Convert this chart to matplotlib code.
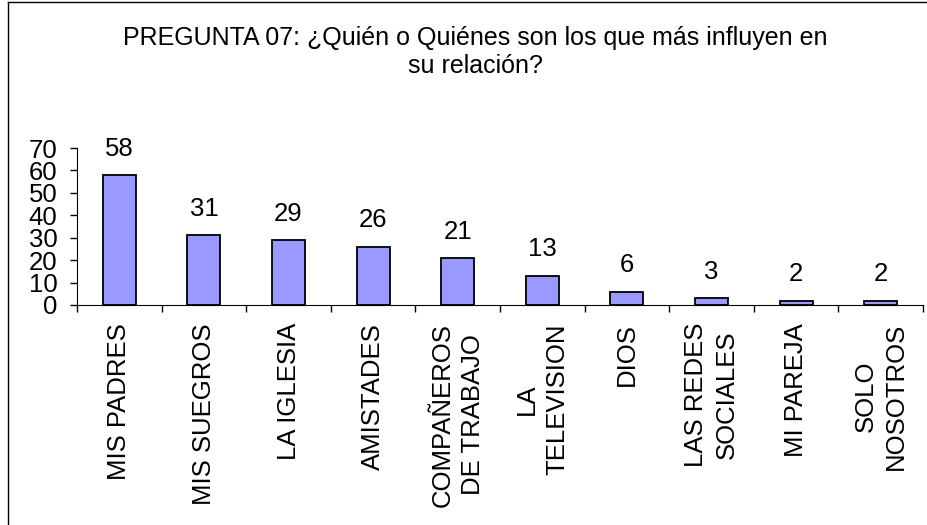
import matplotlib.pyplot as plt
from matplotlib.lines import Line2D
import numpy as np

plt.rcParams['font.family'] = ['Liberation Sans', 'DejaVu Sans']

# datos
categorias = ['MIS PADRES', 'MIS SUEGROS', 'LA IGLESIA', 'AMISTADES',
              'COMPAÑEROS\nDE TRABAJO', 'LA\nTELEVISION', 'DIOS',
              'LAS REDES\nSOCIALES', 'MI PAREJA', 'SOLO\nNOSOTROS']
valores = [58, 31, 29, 26, 21, 13, 6, 3, 2, 2]
yticks = [0, 10, 20, 30, 40, 50, 60, 70]
titulo = 'PREGUNTA 07: ¿Quién o Quiénes son los que más influyen en\nsu relación?'

fig = plt.figure(figsize=(9.28, 5.25), dpi=100)
ax = fig.add_axes([77 / 928, 1 - 305 / 525, 846 / 928, 157 / 525])

x = np.arange(len(categorias))
ax.bar(x, valores, width=0.39, color='#9999FF', edgecolor='black', linewidth=1.3)

for xi, v in zip(x, valores):
    ax.annotate(str(v), (xi, v), xytext=(0, 19), textcoords='offset points',
                ha='center', va='center', fontsize=18.5)

ax.set_xlim(-0.5, len(categorias) - 0.5)
ax.set_ylim(0, 70)
ax.set_yticks(yticks)
ax.tick_params(axis='y', labelsize=18.5, length=5, width=1, pad=9, direction='out')

ax.set_xticks(x)
ax.set_xticklabels(categorias, rotation=90, fontsize=18.5, ha='center', va='top',
                   multialignment='center', linespacing=1.35)
ax.tick_params(axis='x', which='major', length=0, pad=13)
ax.set_xticks(np.arange(len(categorias) + 1) - 0.5, minor=True)
ax.tick_params(axis='x', which='minor', length=5, width=1, direction='out')

ax.spines['top'].set_visible(False)
ax.spines['right'].set_visible(False)
ax.spines['left'].set_color('black')
ax.spines['bottom'].set_color('black')

fig.text(475 / 928, 1 - 52 / 525, titulo, ha='center', va='center',
         fontsize=18, linespacing=1.2)

# marco del area del grafico
fig.add_artist(Line2D([8 / 928, 8 / 928], [0, 1 - 2 / 525], color='black', lw=1))
fig.add_artist(Line2D([8 / 928, 1], [1 - 2 / 525, 1 - 2 / 525], color='black', lw=1))

plt.savefig('out.png', dpi=100)
